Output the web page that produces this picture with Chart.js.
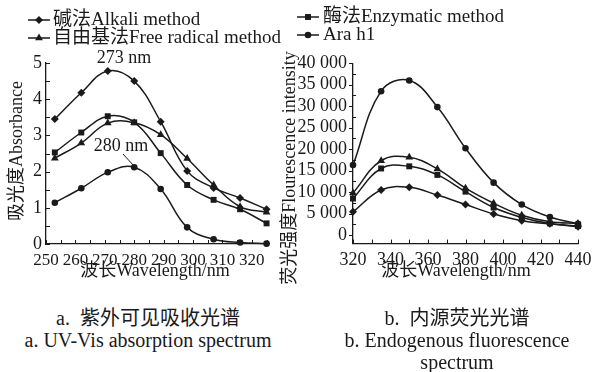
<!DOCTYPE html>
<html><head><meta charset="utf-8">
<script src="https://cdn.jsdelivr.net/npm/chart.js@4/dist/chart.umd.min.js"></script>
<style>
html,body{margin:0;padding:0;background:#fff;}
#wrap{position:relative;width:599px;height:372px;overflow:hidden;background:#fff;}
canvas{position:absolute;top:0;}
#ca{left:0;width:285px;height:290px;}
#cb{left:275px;width:324px;height:290px;}
.cap{position:absolute;font-family:"Liberation Serif","Noto Sans CJK SC",serif;font-size:20px;color:#1a1a1a;text-align:center;line-height:22px;white-space:nowrap;}
</style></head><body>
<div id="wrap">
<canvas id="ca" width="285" height="290"></canvas>
<canvas id="cb" width="324" height="290"></canvas>
<div class="cap" style="left:0;width:296px;top:307px;">a.&nbsp; 紫外可见吸收光谱<br>a. UV-Vis absorption spectrum</div>
<div class="cap" style="left:307px;width:300px;top:307px;">b.&nbsp; 内源荧光光谱<br>b. Endogenous fluorescence<br>spectrum</div>
</div>
<script>
const FONT = '"Liberation Serif", "Noto Sans CJK SC", serif';
const INK = '#1a1a1a';

// ---- data: panel a (UV-Vis absorption) ----
const wavelengthA = [253, 262, 271, 280, 289, 298, 307, 316, 325];
const alkaliA  = [3.45, 4.18, 4.78, 4.50, 3.38, 2.02, 1.55, 1.27, 0.96];
const freeRadA = [2.37, 2.79, 3.34, 3.35, 3.02, 2.36, 1.63, 1.03, 0.88];
const enzymeA  = [2.53, 3.08, 3.53, 3.36, 2.51, 1.63, 1.22, 0.96, 0.57];
const arahA    = [1.14, 1.54, 1.98, 2.12, 1.52, 0.46, 0.13, 0.04, 0.01];
const xTicksA = [250, 260, 270, 280, 290, 300, 310, 320];
const yTicksA = [0, 1, 2, 3, 4, 5];

// ---- data: panel b (endogenous fluorescence) ----
const wavelengthB = [320, 335, 350, 365, 380, 395, 410, 425, 440];
const alkaliB  = [5400, 10500, 11100, 9300, 7100, 4900, 3300, 2600, 1900];
const freeRadB = [9800, 17300, 18100, 15400, 10900, 7400, 4600, 3100, 2700];
const enzymeB  = [8500, 15500, 16000, 14000, 10100, 6400, 4100, 2700, 2100];
const arahB    = [16300, 33500, 36000, 29800, 20200, 12200, 7100, 4200, 2600];
const xTicksB = [320, 340, 360, 380, 400, 420, 440];
const yTicksB = [0, 5000, 10000, 15000, 20000, 25000, 30000, 35000, 40000];

const seriesNames = ['碱法Alkali method', '自由基法Free radical method', '酶法Enzymatic method', 'Ara h1'];
const markerStyles = ['rectRot', 'triangle', 'rect', 'circle'];
const markerRadius = [4, 4.5, 4.2, 3.3];

function makeDatasets(xs, seriesList) {
  return seriesList.map((ys, i) => ({
    label: seriesNames[i],
    data: xs.map((x, j) => ({x: x, y: ys[j]})),
    borderColor: INK, backgroundColor: INK,
    pointBackgroundColor: INK, pointBorderColor: INK, pointBorderWidth: 0,
    pointStyle: markerStyles[i], pointRadius: markerRadius[i],
    borderWidth: 1.5, tension: 0.4, fill: false, clip: false
  }));
}

function fmtThousands(v) { return String(v).replace(/\B(?=(\d{3})+(?!\d))/g, ' '); }

function makeDecor(cfg) {
  return {
    id: 'decor',
    afterDraw(chart) {
      const ctx = chart.ctx, area = chart.chartArea;
      ctx.save();
      ctx.strokeStyle = INK; ctx.fillStyle = INK; ctx.lineWidth = 1;
      (cfg.marks || []).forEach(m => {
        const sc = chart.scales[m.axis];
        for (let v = m.from; v <= m.to + 1e-9; v += m.step) {
          const p = Math.round(sc.getPixelForValue(v)) + 0.5;
          ctx.beginPath();
          if (m.axis === 'x') { ctx.moveTo(p, area.bottom); ctx.lineTo(p, area.bottom + m.len); }
          else { ctx.moveTo(area.left, p); ctx.lineTo(area.left + m.len, p); }
          ctx.stroke();
        }
      });
      (cfg.texts || []).forEach(t => {
        ctx.save();
        ctx.font = '18px ' + FONT; ctx.textAlign = t.align || 'center'; ctx.textBaseline = 'middle';
        ctx.translate(t.x, t.y); if (t.rot) ctx.rotate(t.rot);
        ctx.fillText(t.text, 0, 0);
        ctx.restore();
      });
      (cfg.lines || []).forEach(l => {
        ctx.beginPath(); ctx.moveTo(l[0], l[1]); ctx.lineTo(l[2], l[3]); ctx.stroke();
      });
      (cfg.legend || []).forEach(it => {
        const ds = chart.data.datasets[it.ds];
        ctx.lineWidth = ds.borderWidth; ctx.strokeStyle = ds.borderColor;
        ctx.beginPath(); ctx.moveTo(it.x1, it.y); ctx.lineTo(it.x2, it.y); ctx.stroke();
        ctx.fillStyle = ds.pointBackgroundColor;
        Chart.helpers.drawPoint(ctx, {pointStyle: ds.pointStyle, radius: ds.pointRadius, borderWidth: 0, rotation: 0}, (it.x1 + it.x2) / 2, it.y);
        ctx.fillStyle = INK; ctx.font = '19px ' + FONT; ctx.textAlign = 'left'; ctx.textBaseline = 'middle';
        ctx.fillText(ds.label, it.tx, it.y);
      });
      ctx.restore();
    }
  };
}

function axisCommon(tickList, fmt, pad, size) {
  return {
    type: 'linear',
    afterBuildTicks: s => { s.ticks = tickList.map(v => ({value: v})); },
    ticks: {font: {family: FONT, size: size || 18}, color: INK, padding: pad, maxRotation: 0, autoSkip: false,
            callback: fmt || (v => String(v))},
    grid: {display: true, drawOnChartArea: false, drawTicks: false},
    border: {display: true, color: INK, width: 1.3}
  };
}

Chart.defaults.font.family = FONT;

new Chart(document.getElementById('ca'), {
  type: 'line',
  data: {datasets: makeDatasets(wavelengthA, [alkaliA, freeRadA, enzymeA, arahA])},
  options: {
    responsive: false, animation: false, devicePixelRatio: 1,
    layout: {padding: {left: 0, top: 63, right: 15.5, bottom: 0}},
    plugins: {legend: {display: false}, tooltip: {enabled: false}},
    scales: {
      x: Object.assign(axisCommon(xTicksA, null, 6, 17), {min: 250, max: 326, afterFit: s => { s.height = 46; }}),
      y: Object.assign(axisCommon(yTicksA, null, 4), {min: 0, max: 5, afterFit: s => { s.width = 46; }})
    }
  },
  plugins: [makeDecor({
    marks: [
      {axis: 'x', from: 250, to: 325, step: 5, len: -4},
      {axis: 'y', from: 0, to: 5, step: 0.5, len: 4}
    ],
    texts: [
      {text: '吸光度Absorbance', x: 17, y: 151, rot: -Math.PI / 2},
      {text: '波长Wavelength/nm', x: 155, y: 271},
      {text: '273 nm', x: 124, y: 58},
      {text: '280 nm', x: 121, y: 146}
    ],
    lines: [[123, 154, 134, 166]],
    legend: [
      {ds: 0, x1: 28, x2: 50, y: 20, tx: 53},
      {ds: 1, x1: 28, x2: 50, y: 38, tx: 53}
    ]
  })]
});

new Chart(document.getElementById('cb'), {
  type: 'line',
  data: {datasets: makeDatasets(wavelengthB, [alkaliB, freeRadB, enzymeB, arahB])},
  options: {
    responsive: false, animation: false, devicePixelRatio: 1,
    layout: {padding: {left: 0, top: 63.3, right: 21, bottom: 0}},
    plugins: {legend: {display: false}, tooltip: {enabled: false}},
    scales: {
      x: Object.assign(axisCommon(xTicksB, null, 6), {min: 320, max: 440, afterFit: s => { s.height = 46.4; }}),
      y: Object.assign(axisCommon(yTicksB, fmtThousands, 6), {min: -2000, max: 40000, afterFit: s => { s.width = 78; }})
    }
  },
  plugins: [makeDecor({
    marks: [
      {axis: 'x', from: 320, to: 440, step: 10, len: -4},
      {axis: 'y', from: 0, to: 40000, step: 5000, len: -4},
      {axis: 'y', from: 2500, to: 37500, step: 5000, len: 3}
    ],
    texts: [
      {text: '荧光强度Flourescence intensity', x: 15, y: 168, rot: -Math.PI / 2},
      {text: '波长Wavelength/nm', x: 181, y: 271}
    ],
    legend: [
      {ds: 2, x1: 22, x2: 44, y: 17, tx: 48},
      {ds: 3, x1: 22, x2: 44, y: 35, tx: 48}
    ]
  })]
});
</script>
</body></html>
